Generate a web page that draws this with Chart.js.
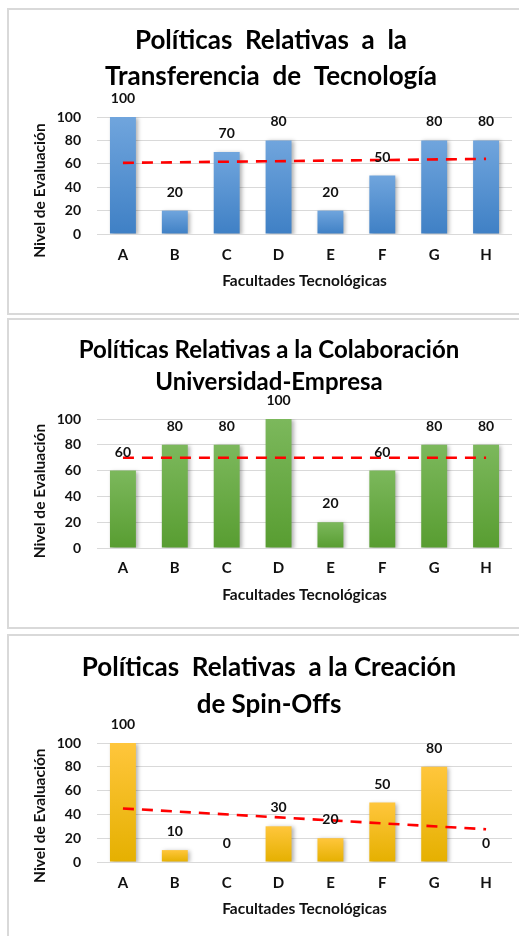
<!DOCTYPE html>
<html>
<head>
<meta charset="utf-8">
<script src="https://cdn.jsdelivr.net/npm/chart.js@4.4.1/dist/chart.umd.min.js"></script>
<style>
html, body { margin: 0; padding: 0; background: #fff; width: 519px; height: 936px; overflow: hidden; }
.panel { position: absolute; left: 7px; width: 600px; border: 2px solid #d9d9d9; box-sizing: border-box; background: #fff; }
canvas { position: absolute; left: 0; }
</style>
</head>
<body>
<div class="panel" style="top:8px;height:307px"></div>
<div class="panel" style="top:318px;height:311px"></div>
<div class="panel" style="top:634px;height:400px"></div>
<canvas id="c1" width="512" height="305" style="top:9px"></canvas>
<canvas id="c2" width="512" height="309" style="top:319px"></canvas>
<canvas id="c3" width="512" height="307" style="top:635px"></canvas>
<script>
// ---- data ----
const categories = ['A', 'B', 'C', 'D', 'E', 'F', 'G', 'H'];
const yTicks = [0, 20, 40, 60, 80, 100];

const valuesTransferencia = [100, 20, 70, 80, 20, 50, 80, 80];
const valuesColaboracion  = [60, 80, 80, 100, 20, 60, 80, 80];
const valuesSpinOffs      = [100, 10, 0, 30, 20, 50, 80, 0];

// linear trendline end values (at A and at H)
const trendTransferencia = [60.8, 64.2];
const trendColaboracion  = [70, 70];
const trendSpinOffs      = [45, 27.5];

const titleTransferencia = ['Políticas  Relativas  a  la', 'Transferencia  de  Tecnología'];
const titleColaboracion  = ['Políticas Relativas a la Colaboración', 'Universidad-Empresa'];
const titleSpinOffs      = ['Políticas  Relativas  a la Creación', 'de Spin-Offs'];

const xTitle = 'Facultades Tecnológicas';
const yTitle = 'Nivel de Evaluación';

// ---- styling ----
const FONT = 'Lato, "Open Sans", sans-serif';
const TEXT = '#111111';

function barGradient(context, topColor, bottomColor) {
  const chart = context.chart;
  const { ctx, chartArea, scales } = chart;
  if (!chartArea || !scales.y) return bottomColor;
  const v = context.raw;
  const yTop = scales.y.getPixelForValue(v);
  const yBot = scales.y.getPixelForValue(0);
  if (yBot - yTop < 1) return bottomColor;
  const g = ctx.createLinearGradient(0, yTop, 0, yBot);
  g.addColorStop(0, topColor);
  g.addColorStop(1, bottomColor);
  return g;
}

const barShadow = {
  id: 'barShadow',
  beforeDatasetDraw(chart, args) {
    if (args.meta.type === 'bar') {
      const c = chart.ctx;
      c.save();
      c.shadowColor = 'rgba(0,0,0,0.30)';
      c.shadowBlur = 4;
      c.shadowOffsetX = 2;
      c.shadowOffsetY = 1;
    }
  },
  afterDatasetDraw(chart, args) {
    if (args.meta.type === 'bar') chart.ctx.restore();
  }
};

const valueLabels = {
  id: 'valueLabels',
  afterDraw(chart) {
    const meta = chart.getDatasetMeta(0);
    const ds = chart.data.datasets[0];
    const c = chart.ctx;
    c.save();
    c.font = 'bold 14px ' + FONT;
    c.fillStyle = TEXT;
    c.textAlign = 'center';
    c.textBaseline = 'middle';
    meta.data.forEach((bar, i) => {
      c.fillText(String(ds.data[i]), bar.x, bar.y - 18.5);
    });
    c.restore();
  }
};

function makeChart(id, p) {
  const padLeft = p.padLeft;
  new Chart(document.getElementById(id), {
    type: 'bar',
    data: {
      labels: categories,
      datasets: [
        {
          type: 'bar',
          data: p.values,
          backgroundColor: (ctx) => barGradient(ctx, p.top, p.bottom),
          borderWidth: 0,
          barPercentage: 0.5,
          categoryPercentage: 1,
          order: 1
        },
        {
          type: 'line',
          data: [
            { x: categories[0], y: p.trend[0] },
            { x: categories[categories.length - 1], y: p.trend[1] }
          ],
          borderColor: '#ff0000',
          borderWidth: 2.6,
          borderDash: [11, 8],
          pointRadius: 0,
          fill: false,
          tension: 0,
          order: 0
        }
      ]
    },
    options: {
      responsive: false,
      animation: false,
      devicePixelRatio: 1,
      layout: { padding: { left: padLeft, right: 0, top: 0, bottom: 0 } },
      plugins: {
        legend: { display: false },
        tooltip: { enabled: false },
        title: {
          display: true,
          text: p.title,
          color: '#000',
          font: { family: FONT, size: p.titleSize, weight: 'bold', lineHeight: p.titleLH + 'px' },
          padding: { top: p.tPadTop, bottom: p.tPadBottom }
        }
      },
      scales: {
        x: {
          offset: true,
          grid: { display: false, drawTicks: false },
          border: { display: false },
          ticks: { color: TEXT, padding: p.xTickPad, font: { family: FONT, size: 15, weight: 'bold' } },
          title: {
            display: true,
            text: xTitle,
            color: TEXT,
            font: { family: FONT, size: 15.5, weight: 'bold' },
            padding: { top: 0, bottom: 23.7 }
          },
          afterFit(s) { s.height = 80; }
        },
        y: {
          min: yTicks[0],
          max: yTicks[yTicks.length - 1],
          ticks: {
            stepSize: yTicks[1] - yTicks[0],
            color: TEXT,
            padding: 16,
            font: { family: FONT, size: 14, weight: 'bold' }
          },
          grid: { color: '#d9d9d9', lineWidth: 1, drawTicks: false },
          border: { display: false },
          title: {
            display: true,
            text: yTitle + '\u00a0'.repeat(p.yShift),
            color: TEXT,
            font: { family: FONT, size: 15.5, weight: 'bold' },
            padding: { top: 30.7 - padLeft, bottom: 0 }
          },
          afterFit(s) { s.width = 97 - padLeft; }
        }
      }
    },
    plugins: [barShadow, valueLabels]
  });
}

makeChart('c1', {
  values: valuesTransferencia, trend: trendTransferencia, title: titleTransferencia,
  top: '#70a5dd', bottom: '#3f80c5',
  padLeft: 30, titleSize: 26, titleLH: 36, tPadTop: 14, tPadBottom: 22, yShift: 8, xTickPad: 12
});
makeChart('c2', {
  values: valuesColaboracion, trend: trendColaboracion, title: titleColaboracion,
  top: '#7cb85c', bottom: '#589d31',
  padLeft: 26, titleSize: 24, titleLH: 32, tPadTop: 15, tPadBottom: 21, yShift: 4, xTickPad: 11
});
makeChart('c3', {
  values: valuesSpinOffs, trend: trendSpinOffs, title: titleSpinOffs,
  top: '#ffc63c', bottom: '#e5b000',
  padLeft: 26, titleSize: 26, titleLH: 37, tPadTop: 14.5, tPadBottom: 19.5, yShift: 7, xTickPad: 12
});
</script>
</body>
</html>
